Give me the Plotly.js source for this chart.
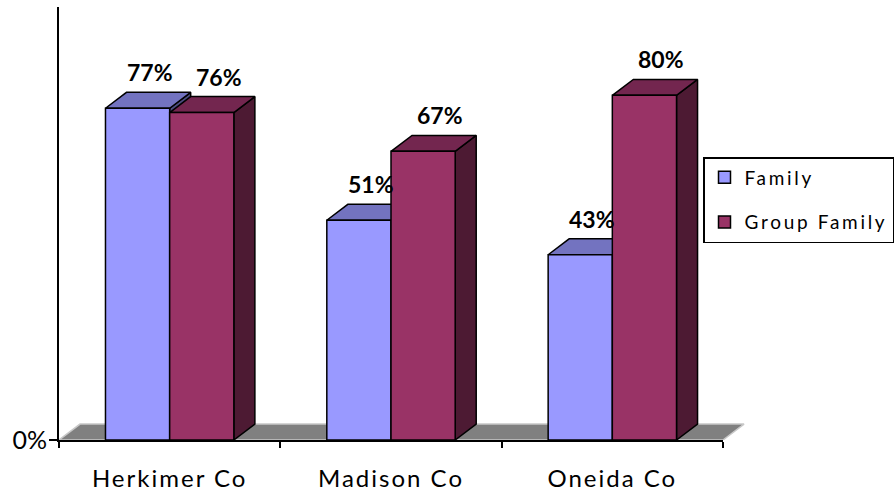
<!DOCTYPE html>
<html>
<head>
<meta charset="utf-8">
<script src="https://cdn.plot.ly/plotly-3.0.1.min.js"></script>
<style>
  html, body { margin: 0; padding: 0; background: #ffffff; }
  #chart { width: 895px; height: 492px; }
  .legendtext { letter-spacing: 2.7px; }
  g.x2tick text { letter-spacing: 2px; }
</style>
</head>
<body>
<div id="chart"></div>
<script>
// ---- data ----
const categories = ['Herkimer Co', 'Madison Co', 'Oneida Co'];
const seriesNames = ['Family', 'Group Family'];
const familyValues = [0.77, 0.51, 0.43];
const groupFamilyValues = [0.76, 0.67, 0.80];
const yTickVals = [0];
const yTickText = ['0%'];

// ---- style / geometry ----
const FONT = 'Lato, "Open Sans", sans-serif';
const BAR_GAP = 0.42;
const BAR_W = (1 - BAR_GAP) / 2;
const DX = 0.095;   // 3-D depth, x units
const DY = 0.037;   // 3-D depth, y units
const colors = {
  family: { front: '#9999FF', top: '#7373C0', side: '#4C4C80' },
  group:  { front: '#993366', top: '#73264F', side: '#4D1A33' }
};
const X_MIN = -0.5, X_MAX_CAT = categories.length - 0.5;
const PLOT_L = 59, PLOT_R = 760, AXIS_END = 723;
const unitPx = (AXIS_END - PLOT_L) / (X_MAX_CAT - X_MIN);
const X_MAX_WIDE = X_MIN + (PLOT_R - PLOT_L) / unitPx;

function poly(xs, ys, fill, line) {
  return {
    type: 'scatter', mode: 'lines', xaxis: 'x', yaxis: 'y',
    x: xs.concat([xs[0]]), y: ys.concat([ys[0]]),
    fill: 'toself', fillcolor: fill,
    line: { color: line, width: 1.5 },
    hoverinfo: 'skip', showlegend: false
  };
}

const traces = [];
// floor
traces.push(poly([X_MIN, X_MIN + DX, X_MAX_CAT + DX, X_MAX_CAT],
                 [0, DY, DY, 0], '#808080', '#C8C8C8'));

// 3-D top and side faces derived from values
const annotations = [];
categories.forEach((c, i) => {
  const sets = [
    { v: familyValues[i], L: i - BAR_W, col: colors.family, xs: 12 },
    { v: groupFamilyValues[i], L: i, col: colors.group, xs: 17 }
  ];
  sets.forEach(s => {
    const L = s.L, R = s.L + BAR_W, v = s.v;
    traces.push(poly([R, R, R + DX, R + DX], [0, v, v + DY, DY], s.col.side, '#000000'));
    traces.push(poly([L, L + DX, R + DX, R], [v, v + DY, v + DY, v], s.col.top, '#000000'));
    annotations.push({
      xref: 'x', yref: 'y', x: L + BAR_W / 2, y: v,
      xshift: s.xs, yshift: 36, showarrow: false,
      text: Math.round(v * 100) + '%',
      font: { family: FONT, size: 23, color: '#000000', weight: 'bold' }
    });
  });
});

// front faces as real bars
traces.push({
  type: 'bar', name: seriesNames[0], x: categories, y: familyValues,
  xaxis: 'x2', yaxis: 'y', legendgroup: 'a',
  marker: { color: colors.family.front, line: { color: '#000000', width: 1.5 } },
  hoverinfo: 'x+y'
});
traces.push({
  type: 'bar', name: seriesNames[1], x: categories, y: groupFamilyValues,
  xaxis: 'x2', yaxis: 'y', legendgroup: 'b',
  marker: { color: colors.group.front, line: { color: '#000000', width: 1.5 } },
  hoverinfo: 'x+y'
});

const plotW = PLOT_R - PLOT_L;
const layout = {
  width: 895, height: 492,
  margin: { l: PLOT_L, r: 895 - PLOT_R, t: 7, b: 52, pad: 0, autoexpand: false },
  paper_bgcolor: '#ffffff', plot_bgcolor: 'rgba(0,0,0,0)',
  barmode: 'group', bargap: BAR_GAP, bargroupgap: 0,
  font: { family: FONT, color: '#000000' },
  xaxis: {
    type: 'linear', range: [X_MIN, X_MAX_WIDE], domain: [0, 1],
    visible: false, fixedrange: true
  },
  xaxis2: {
    type: 'category', anchor: 'y', domain: [0, (AXIS_END - PLOT_L) / plotW],
    range: [X_MIN, X_MAX_CAT],
    showline: true, linecolor: '#000000', linewidth: 2,
    showgrid: false, zeroline: false,
    ticks: 'outside', tickson: 'boundaries', ticklen: 6, tickwidth: 2, tickcolor: '#000000',
    ticklabelstandoff: 16,
    tickfont: { family: FONT, size: 24, color: '#000000' }
  },
  yaxis: {
    anchor: 'x', range: [0, 1.005], domain: [0, 1],
    showline: true, linecolor: '#000000', linewidth: 2,
    showgrid: false, zeroline: false,
    tickmode: 'array', tickvals: yTickVals, ticktext: yTickText,
    ticks: 'outside', ticklen: 8, tickwidth: 2, tickcolor: '#000000',
    ticklabelstandoff: -3,
    tickfont: { family: FONT, size: 25, color: '#000000' }
  },
  showlegend: true,
  legend: {
    x: (703 - PLOT_L) / plotW, xanchor: 'left',
    y: (440 - 157) / 433, yanchor: 'top',
    bgcolor: '#ffffff', bordercolor: '#000000', borderwidth: 1.5,
    font: { family: FONT, size: 19, color: '#000000' },
    traceorder: 'grouped', tracegroupgap: 17, itemwidth: 30
  },
  annotations: annotations
};

Plotly.newPlot('chart', traces, layout, { displayModeBar: false, staticPlot: true });
</script>
</body>
</html>
